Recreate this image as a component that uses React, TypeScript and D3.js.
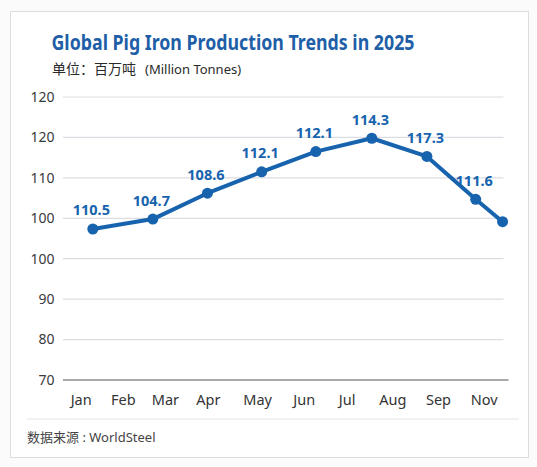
import React from "react";
import * as d3 from "d3";

// ---- data ----
const monthLabels = ["Jan", "Feb", "Mar", "Apr", "May", "Jun", "Jul", "Aug", "Sep", "Nov"];
const monthLabelPos = [0, 0.94, 1.88, 2.84, 3.94, 4.98, 5.94, 6.96, 7.98, 9];
const pointPos = [0.26, 1.6, 2.82, 4.03, 5.24, 6.49, 7.72, 8.81, 9.41];
const pointValues = [107.35, 109.8, 116.2, 121.5, 126.5, 129.8, 125.3, 114.7, 109.15];
const pointLabels = ["110.5", "104.7", "108.6", "112.1", "112.1", "114.3", "117.3", "111.6", ""];
const yTickValues = [70, 80, 90, 100, 110, 120, 130, 140];
const yTickLabels = ["70", "80", "90", "100", "100", "110", "120", "120"];

const W = 537;
const H = 467;
const BLUE = "#1763ad";
const FONT = '"Noto Sans", "Noto Sans CJK SC", sans-serif';

export default function App() {
  const x = d3.scaleLinear().domain([0, 9]).range([81.2, 484.2]);
  const y = d3.scaleLinear().domain([70, 140]).range([380, 97]);
  const gridX0 = 63;
  const gridX1 = 503.5;
  const axisX1 = 508.5;

  const pts = pointPos.map((p, i) => [x(p), y(pointValues[i])] as [number, number]);
  const line = d3.line<[number, number]>().x((d) => d[0]).y((d) => d[1]);

  return (
    <svg
      width={W}
      height={H}
      style={{ position: "absolute", left: 0, top: 0, background: "#ffffff" }}
      fontFamily={FONT}
    >
      <rect x={0} y={0} width={W} height={H} fill="#fbfbfc" />
      <rect x={10.5} y={11.5} width={518} height={446} fill="#ffffff" stroke="#dcdde2" strokeWidth={1} />

      <text
        x={51.5}
        y={50}
        fill="#1f5fa8"
        fontSize={22}
        fontWeight={700}
        textLength={363}
        lengthAdjust="spacingAndGlyphs"
      >
        Global Pig Iron Production Trends in 2025
      </text>
      <text y={73.5} fill="#2a2a2a">
        <tspan x={52} fontSize={14} fontFamily='"Noto Sans CJK SC", sans-serif'>单位：百万吨</tspan>
        <tspan x={145} fontSize={13}>(Million Tonnes)</tspan>
      </text>

      {yTickValues.map((v, i) => (
        <g key={"g" + i}>
          {i > 0 && (
            <line x1={gridX0} x2={gridX1} y1={y(v)} y2={y(v)} stroke="#dcdde2" strokeWidth={1.2} />
          )}
          <text x={54.5} y={y(v)} dy="0.35em" textAnchor="end" fill="#3a3a3a" fontSize={14}>
            {yTickLabels[i]}
          </text>
        </g>
      ))}
      <line x1={gridX0} x2={axisX1} y1={y(70)} y2={y(70)} stroke="#8a8c92" strokeWidth={1.6} />

      {monthLabels.map((m, i) => (
        <text key={m} x={x(monthLabelPos[i])} y={405} textAnchor="middle" fill="#333333" fontSize={14.5}>
          {m}
        </text>
      ))}

      <path d={line(pts) || ""} fill="none" stroke={BLUE} strokeWidth={4} strokeLinejoin="round" strokeLinecap="round" />
      {pts.map((p, i) => (
        <circle key={"c" + i} cx={p[0]} cy={p[1]} r={5.5} fill={BLUE} />
      ))}
      {pts.map((p, i) =>
        pointLabels[i] ? (
          <text
            key={"l" + i}
            x={p[0] - 1.5}
            y={p[1] - 13.5}
            textAnchor="middle"
            fill={BLUE}
            fontSize={14.5}
            fontWeight={700}
          >
            {pointLabels[i]}
          </text>
        ) : null
      )}

      <line x1={27} x2={519} y1={419} y2={419} stroke="#e2e3e7" strokeWidth={1.2} />
      <text x={27} y={441.5} fill="#444444" fontSize={13}>
        数据来源 : WorldSteel
      </text>
    </svg>
  );
}
